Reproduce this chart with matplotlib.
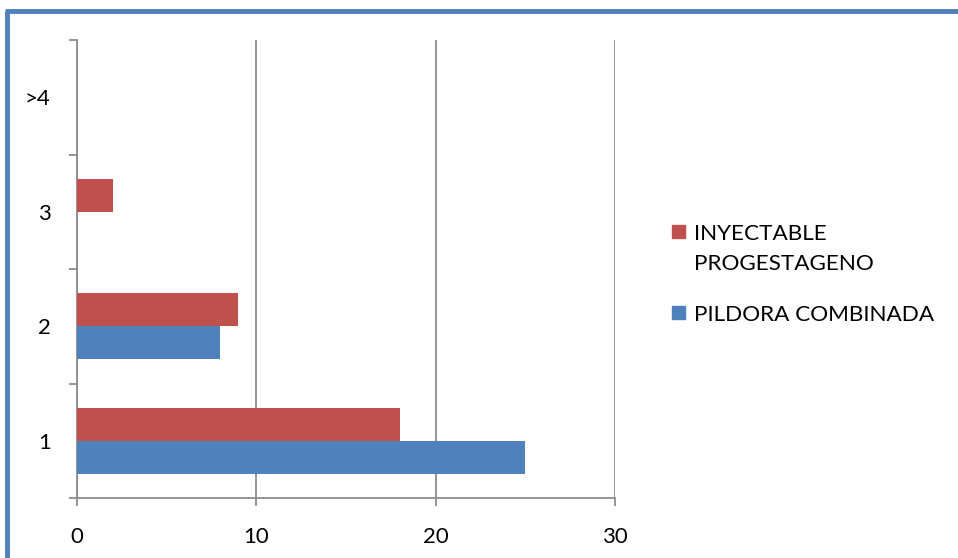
import matplotlib.pyplot as plt
from matplotlib.patches import Rectangle
from matplotlib.lines import Line2D
import numpy as np

categories = ["1", "2", "3", ">4"]
pildora = [25, 8, 0, 0]
inyectable = [18, 9, 2, 0]
series_names = ["INYECTABLE\nPROGESTAGENO", "PILDORA COMBINADA"]

BLUE = "#4F81BD"
RED = "#C0504D"
GRID = "#8C8C8C"

plt.rcParams['font.family'] = ['Lato', 'DejaVu Sans']

W, H = 958, 558
fig = plt.figure(figsize=(W / 100, H / 100), dpi=100)
ax = fig.add_axes([77 / W, 1 - 498 / H, (615 - 77) / W, (498 - 40) / H])

y = np.arange(len(categories))
bh = 0.29
ax.barh(y - bh / 2, pildora, height=bh, color=BLUE, zorder=3)
ax.barh(y + bh / 2, inyectable, height=bh, color=RED, zorder=3)

ax.set_xlim(0, 30)
ax.set_ylim(-0.5, len(categories) - 0.5)
ax.set_xticks([0, 10, 20, 30])
ax.set_yticks(y)
ax.set_yticklabels(categories)
ax.set_yticks(np.arange(-0.5, len(categories), 1), minor=True)

ax.grid(axis="x", color=GRID, lw=1.3, zorder=0)
for s in ["top", "right"]:
    ax.spines[s].set_visible(False)
for s in ["left", "bottom"]:
    ax.spines[s].set_color(GRID)
    ax.spines[s].set_linewidth(1.3)

ax.tick_params(axis="y", which="major", length=0, labelsize=16, pad=19)
ax.tick_params(axis="y", which="minor", length=6, color=GRID, width=1.3)
ax.tick_params(axis="x", length=6, color=GRID, width=1.3, labelsize=16, pad=15)

# legend drawn by hand: squares next to the series names
leg = [(RED, series_names[0], 231), (BLUE, series_names[1], 312)]
for color, name, ypix in leg:
    fig.add_artist(Rectangle((672 / W, 1 - (ypix + 7) / H), 13 / W, 13 / H,
                             transform=fig.transFigure, color=color))
    fig.text(694 / W, 1 - (ypix - 7) / H, name, fontsize=16.2, va="top",
             ha="left", linespacing=1.65)

# frame around the chart
fig.add_artist(Line2D([7 / W, 7 / W], [0, 1 - 11 / H], transform=fig.transFigure,
                      color=BLUE, lw=3.5, solid_capstyle="butt"))
fig.add_artist(Line2D([5 / W, 1], [1 - 11 / H, 1 - 11 / H], transform=fig.transFigure,
                      color=BLUE, lw=3.5, solid_capstyle="butt"))

fig.savefig("out.png", dpi=100)
